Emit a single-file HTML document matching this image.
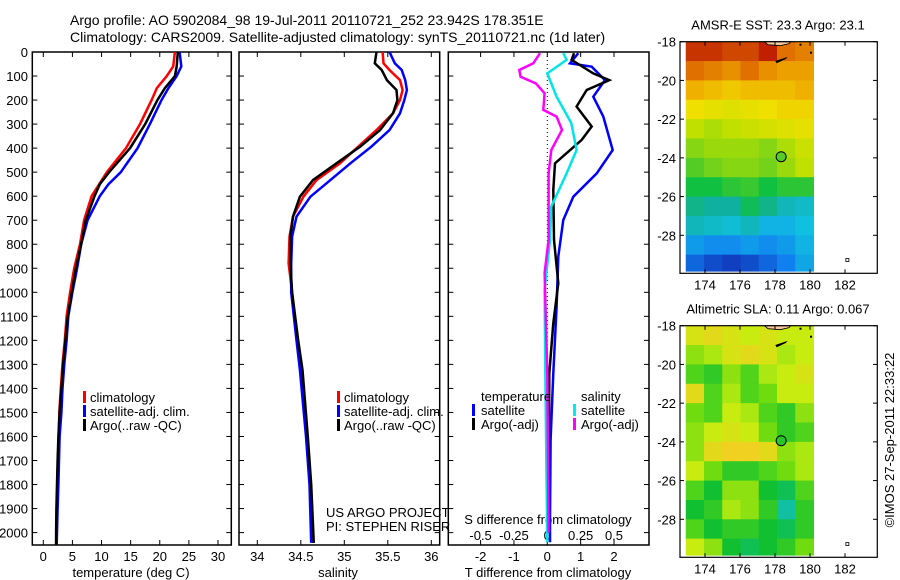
<!DOCTYPE html>
<html><head><meta charset="utf-8"><style>
html,body{margin:0;padding:0;background:#fff;}
svg{display:block;font-family:"Liberation Sans",sans-serif;}
text{fill:#000;}
</style></head><body>
<svg id="fig" width="900" height="580" viewBox="0 0 900 580" xmlns="http://www.w3.org/2000/svg">
<text x="70" y="25" font-size="14">Argo profile: AO 5902084_98 19-Jul-2011 20110721_252 23.942S 178.351E</text>
<text x="70" y="42" font-size="14">Climatology: CARS2009. Satellite-adjusted climatology: synTS_20110721.nc (1d later)</text>
<g id="g"></g>
<text transform="translate(894,440) rotate(-90)" text-anchor="middle" font-size="13">©IMOS 27-Sep-2011 22:33:22</text>
</svg>
<script>
// ---------- data ----------
const tempDepth = [0,60,100,150,200,300,400,500,550,600,700,800,900,1000,1100,1200,1300,1400,1500,1600,1700,1800,1900,2000,2050];
const tempClim = [22.6,22.3,21.2,19.5,18.6,16.6,14.2,10.9,9.6,8.3,7.0,6.3,5.3,4.6,4.0,3.7,3.3,3.0,2.75,2.65,2.5,2.4,2.3,2.25,2.2];
const tempSat = [23.4,23.7,22.9,21.5,20.3,18.3,16.2,13.3,11.2,9.7,7.6,6.5,5.8,5.0,4.3,4.0,3.6,3.3,3.1,2.8,2.7,2.6,2.45,2.35,2.3];
const tempArgo = [23.1,22.9,22.6,20.9,19.6,17.5,14.9,11.3,9.7,8.8,7.3,6.5,5.6,4.9,4.2,3.8,3.4,3.1,2.8,2.6,2.45,2.35,2.25,2.2,2.2];

const salDepth = [0,47,75,117,158,200,255,325,394,463,533,602,685,768,879,1000,1200,1323,1600,1800,2043];
const salClim = [35.44,35.45,35.52,35.64,35.67,35.64,35.56,35.37,35.16,34.95,34.68,34.53,34.41,34.37,34.36,34.40,34.46,34.51,34.57,34.61,34.64];
const salSat = [35.52,35.58,35.66,35.70,35.72,35.69,35.64,35.52,35.31,35.07,34.84,34.61,34.45,34.40,34.39,34.39,34.45,34.49,34.56,34.60,34.62];
const salArgo = [35.37,35.35,35.43,35.49,35.60,35.61,35.56,35.41,35.18,34.91,34.64,34.49,34.41,34.38,34.38,34.40,34.47,34.52,34.58,34.62,34.65];

const dTSatDepth = [5,47,61,117,186,269,408,505,602,699,851,1060,1337,1614,1933,2040];
const dTSat = [0.93,0.68,1.33,1.73,1.38,1.68,1.96,1.48,0.78,0.48,0.33,0.28,0.18,0.10,0.08,0.08];
const dTArgoDepth = [5,33,89,117,158,227,310,366,463,574,782,962,1129,1337,1933,2000];
const dTArgo = [0.8,0.73,1.38,1.86,1.18,0.88,1.33,1.03,0.23,0.18,0.2,0.33,0.18,0.06,0.04,0.04];
const dSSatDepth = [5,33,89,186,296,408,505,643,782,990,1337,2040];
const dSSat = [0.12,0.145,0.0,0.07,0.18,0.22,0.145,0.03,0.02,-0.02,-0.015,0];
const dSArgoDepth = [5,47,75,103,131,172,241,269,324,408,505,782,920,1337,2000];
const dSArgo = [-0.055,-0.105,-0.21,-0.2,-0.085,-0.02,-0.03,0.07,0.11,0.03,0.01,0.01,-0.02,0,0.01];

const depthTicks = [0,100,200,300,400,500,600,700,800,900,1000,1100,1200,1300,1400,1500,1600,1700,1800,1900,2000];
const tempTicks = [0,5,10,15,20,25,30];
const salTicks = [34,34.5,35,35.5,36];
const tDiffTicks = [-2,-1,0,1,2];
const sDiffTicks = [-0.5,-0.25,0,0.25,0.5];
const latTicks = [18,20,22,24,26,28];
const lonTicks = [174,176,178,180,182];

const sstRows = [
[25.3,25.3,25.2,25.2,25.4,25.0,24.9],
[25.0,24.9,24.8,25.0,24.8,24.7,24.7],
[24.6,24.5,24.4,24.5,24.5,24.5,24.6],
[24.2,24.1,24.0,24.1,24.2,24.3,24.3],
[23.7,23.6,23.7,23.8,23.9,24.0,24.1],
[23.4,23.5,23.5,23.5,23.4,23.6,23.8],
[23.1,23.3,23.4,23.4,23.3,23.5,23.7],
[22.6,22.6,22.8,22.9,22.6,22.8,22.8],
[22.3,22.2,22.2,22.5,22.3,22.0,21.9],
[22.0,21.9,21.8,22.0,21.6,21.6,21.7],
[21.4,21.3,21.3,21.4,21.3,21.4,21.6],
[21.0,20.8,20.7,20.8,21.0,21.2,21.5]];
const slaRows = [
[.13,.14,.13,.12,.13,.12,.12],
[.10,.11,.13,.14,.13,.11,.12],
[.08,.07,.10,.08,.11,.12,.13],
[.14,.08,.11,.08,.09,.12,.12],
[.09,.08,.12,.11,.08,.07,.10],
[.10,.12,.13,.12,.09,.07,.08],
[.10,.14,.15,.16,.14,.10,.11],
[.12,.09,.07,.07,.08,.09,.11],
[.08,.06,.10,.10,.06,.05,.08],
[.06,.07,.11,.10,.07,.03,.07],
[.08,.06,.07,.07,.06,.05,.07],
[.12,.10,.06,.05,.06,.07,.09]];
const sstArgo = 23.1, slaArgo = 0.067;
const floatLon = 178.351, floatLat = 23.942;

// ---------- helpers ----------
const NS = "http://www.w3.org/2000/svg";
const G = document.getElementById('g');
function el(tag, attrs, parent){ const e=document.createElementNS(NS,tag); for(const k in attrs) e.setAttribute(k,attrs[k]); (parent||G).appendChild(e); return e; }
const TOP=52, BOT=545, DS=0.2403;
const yD = d => TOP + d*DS;
function lin(d0,d1,r0,r1){ return v => r0 + (v-d0)*(r1-r0)/(d1-d0); }
const xT = lin(0,30,43.3,218);
const xS = lin(34,36,257.3,431.3);
const xTd = lin(0,2,547.3,614);
const xSd = lin(0,0.5,547.3,614);

function line(xs, ds, sx, color, name, w){
  const pts = xs.map((v,i)=> sx(v).toFixed(1)+','+yD(ds[i]).toFixed(1)).join(' ');
  const p = el('polyline',{points:pts,fill:'none',stroke:color,'stroke-width':w||2.5,'stroke-linejoin':'miter'});
  
  
}
function panel(x0,x1,name){
  const r = el('rect',{x:x0,y:TOP,width:x1-x0,height:BOT-TOP,fill:'none',stroke:'#000','stroke-width':1.5});
  
  
  depthTicks.forEach(d=>{
    el('line',{x1:x0,x2:x0+5,y1:yD(d),y2:yD(d),stroke:'#000'});
    el('line',{x1:x1-5,x2:x1,y1:yD(d),y2:yD(d),stroke:'#000'});
  });
}
function xticks(ticks,sx,labelY,name,fmt){
  ticks.forEach(t=>{
    el('line',{x1:sx(t),x2:sx(t),y1:BOT,y2:BOT-5,stroke:'#000'});
    el('line',{x1:sx(t),x2:sx(t),y1:TOP,y2:TOP+5,stroke:'#000'});
    if(labelY){ const tx=el('text',{x:sx(t),y:labelY,'text-anchor':'middle','font-size':13}); tx.textContent=fmt?fmt(t):t;
      
       }
  });
}
function txt(x,y,s,name,size,anchor){ const t=el('text',{x:x,y:y,'font-size':size||13,'text-anchor':anchor||'start'}); t.textContent=s;
  
   return t; }
function legMark(x,y,color){ el('rect',{x:x,y:y-11,width:3,height:12,fill:color}); }

// ---------- panel 1: temperature ----------
panel(32.3,231.3,'temperature-panel');
depthTicks.forEach(d=>{ txt(28,yD(d)+5,String(d),'depth-tick-label',13,'end'); });
xticks(tempTicks,xT,561,'temperature-tick-label');
txt(131,577,'temperature (deg C)','temperature-axis-title',13,'middle');
line(tempClim,tempDepth,xT,'#ff0000','temp-climatology-line');
line(tempSat,tempDepth,xT,'#0000ff','temp-satellite-line');
line(tempArgo,tempDepth,xT,'#000000','temp-argo-line');
legMark(83,402,'#f00'); txt(90,402,'climatology','legend-climatology');
legMark(83,416,'#00f'); txt(90,416,'satellite-adj. clim.','legend-satellite');
legMark(83,430,'#000'); txt(90,430,'Argo(..raw -QC)','legend-argo');

// ---------- panel 2: salinity ----------
panel(239,439.7,'salinity-panel');
xticks(salTicks,xS,561,'salinity-tick-label');
txt(338,577,'salinity','salinity-axis-title',13,'middle');
line(salClim,salDepth,xS,'#ff0000','sal-climatology-line');
line(salSat,salDepth,xS,'#0000ff','sal-satellite-line');
line(salArgo,salDepth,xS,'#000000','sal-argo-line');
legMark(337,402,'#f00'); txt(344,402,'climatology','legend-climatology');
legMark(337,416,'#00f'); txt(344,416,'satellite-adj. clim.','legend-satellite');
legMark(337,430,'#000'); txt(344,430,'Argo(..raw -QC)','legend-argo');
txt(326,517,'US ARGO PROJECT','project-credit');
txt(326,531,'PI: STEPHEN RISER','pi-credit');

// ---------- panel 3: differences ----------
panel(448.3,649,'difference-panel');
el('line',{x1:547.3,x2:547.3,y1:TOP,y2:BOT,stroke:'#000','stroke-dasharray':'1,3'});
xticks(tDiffTicks,xTd,561,'t-diff-tick-label');
sDiffTicks.forEach(s=>{ txt(xSd(s),540,String(s),'s-diff-tick-label',13,'middle'); });
txt(548,524,'S difference from climatology','s-diff-axis-title',13,'middle');
txt(548,577,'T difference from climatology','t-diff-axis-title',13,'middle');
line(dTSat,dTSatDepth,xTd,'#0000ff','t-diff-satellite-line');
line(dTArgo,dTArgoDepth,xTd,'#000000','t-diff-argo-line');
line(dSSat,dSSatDepth,xSd,'#00e5e5','s-diff-satellite-line');
line(dSArgo,dSArgoDepth,xSd,'#ff00ff','s-diff-argo-line');
txt(481,401,'temperature','legend-temperature-heading');
legMark(472,415,'#00f'); txt(481,415,'satellite','legend-t-satellite');
legMark(472,429,'#000'); txt(481,429,'Argo(-adj)','legend-t-argo');
txt(581,401,'salinity','legend-salinity-heading');
legMark(573,415,'#0ee'); txt(581,415,'satellite','legend-s-satellite');
legMark(573,429,'#f0f'); txt(581,429,'Argo(-adj)','legend-s-argo');

// ---------- maps ----------
const rgb = c => 'rgb('+c.map(Math.round).join(',')+')';
function interp(stops,v){
  if(v<=stops[0][0]) return rgb(stops[0][1]);
  for(let i=1;i<stops.length;i++){ if(v<=stops[i][0]){ const a=stops[i-1],b=stops[i],f=(v-a[0])/(b[0]-a[0]);
    return rgb(a[1].map((x,k)=>x+(b[1][k]-x)*f)); } }
  return rgb(stops[stops.length-1][1]);
}
const sstStops=[[20.7,[16,64,192]],[21.2,[16,128,240]],[21.7,[16,192,224]],[22.2,[16,176,160]],[22.6,[16,192,64]],[23.2,[96,208,32]],[23.7,[192,224,0]],[24.2,[240,224,0]],[24.6,[240,176,0]],[25.0,[224,112,0]],[25.4,[192,32,0]]];
const slaStops=[[0.03,[16,192,160]],[0.06,[16,192,48]],[0.09,[112,220,16]],[0.12,[200,236,16]],[0.15,[240,208,32]]];
const xLon = lin(174,182,705,845);
function map(top, rows, stops, argoVal, title, name){
  const yLat = lin(18,28,top,top+193.6);
  const bottom = top+231.6;
  txt(778,top-12,title,name+'-title',13,'middle');
  const lonStart=172.9, lonEnd=180.2, nC=rows[0].length, step=(lonEnd-lonStart)/nC;
  rows.forEach((row,i)=>row.forEach((v,j)=>{
    const lat0=18+i, lat1=Math.min(19+i,29.85);
    const c=el('rect',{x:xLon(lonStart+j*step),y:yLat(lat0),width:step*17.5+0.5,height:yLat(lat1)-yLat(lat0)+0.5,fill:interp(stops,v)});
    
    
  }));
  el('path',{d:`M${xLon(177.4)} ${top} L${xLon(177.6)} ${top+3} L${xLon(178.3)} ${top+4} L${xLon(178.8)} ${top+2} L${xLon(178.9)} ${top}Z`,fill:'#f8c8a0',stroke:'#000','stroke-width':0.8});
  el('path',{d:`M${xLon(178.1)} ${top+21} L${xLon(178.6)} ${top+17} L${xLon(178.65)} ${top+16} L${xLon(178.05)} ${top+19.5}Z`,fill:'#000',stroke:'#000','stroke-width':0.8});
  el('rect',{x:xLon(179.4),y:top+2,width:2,height:2,fill:'#000'});
  el('rect',{x:xLon(180.0),y:top+10,width:2,height:2,fill:'#000'});
  el('rect',{x:xLon(182.05),y:yLat(29.2),width:3,height:3,fill:'#fff',stroke:'#000','stroke-width':0.8});
  const m=el('circle',{cx:xLon(floatLon),cy:yLat(floatLat),r:5,fill:interp(stops,argoVal),stroke:'#000','stroke-width':1});
  
  
  const b=el('rect',{x:680,y:top,width:197.3,height:bottom-top,fill:'none',stroke:'#000','stroke-width':1.2});
  
  
  latTicks.forEach(l=>{ el('line',{x1:680,x2:684,y1:yLat(l),y2:yLat(l),stroke:'#000'}); el('line',{x1:873,x2:877,y1:yLat(l),y2:yLat(l),stroke:'#000'});
    txt(676,yLat(l)+5,'-'+l,name+'-lat-label',13,'end'); });
  lonTicks.forEach(l=>{ el('line',{x1:xLon(l),x2:xLon(l),y1:top,y2:top+4,stroke:'#000'}); el('line',{x1:xLon(l),x2:xLon(l),y1:bottom-4,y2:bottom,stroke:'#000'});
    txt(xLon(l),bottom+16,String(l),name+'-lon-label',13,'middle'); });
}
map(41.7,sstRows,sstStops,sstArgo,'AMSR-E SST: 23.3 Argo: 23.1','sst-map');
map(325.7,slaRows,slaStops,slaArgo,'Altimetric SLA: 0.11 Argo: 0.067','sla-map');
</script>
</body></html>
